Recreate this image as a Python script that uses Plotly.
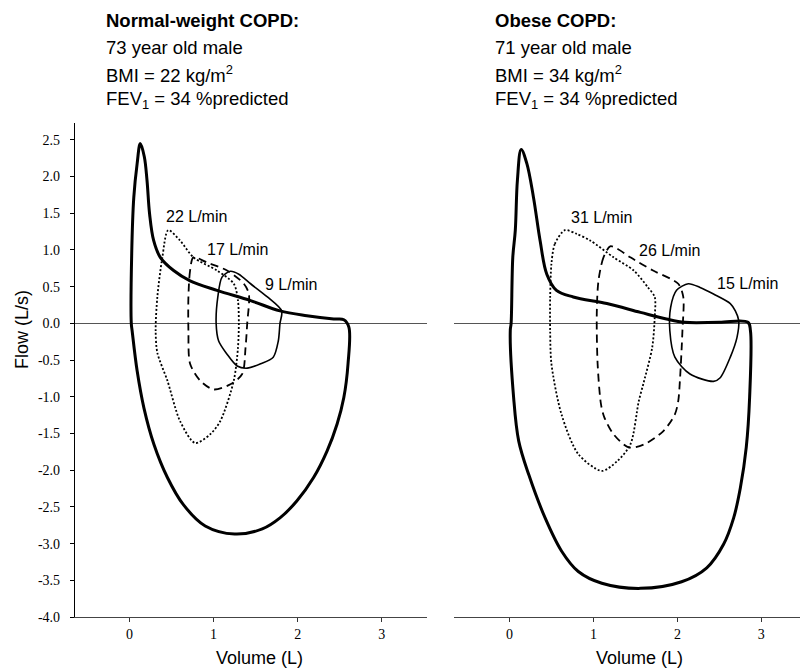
import plotly.graph_objects as go

# ---------------- data (Volume L, Flow L/s) ----------------
# Normal-weight COPD: maximal flow-volume loop
nw_max_v = [0.02, 0.025, 0.05, 0.09, 0.127, 0.175, 0.207, 0.238, 0.286, 0.365, 0.524, 0.72, 1.04, 1.44, 1.79, 2.11, 2.43, 2.55,
            2.61, 2.60, 2.55, 2.47, 2.35, 2.19, 1.99, 1.79, 1.58, 1.25, 0.90, 0.64, 0.45, 0.29, 0.17, 0.09, 0.03]
nw_max_f = [0.0, 0.95, 1.72, 2.18, 2.45, 2.27, 1.95, 1.49, 1.13, 0.90, 0.72, 0.58, 0.45, 0.31, 0.17, 0.105, 0.06, 0.05,
            -0.05, -0.55, -1.01, -1.37, -1.74, -2.10, -2.42, -2.65, -2.80, -2.87, -2.76, -2.47, -2.10, -1.65, -1.15, -0.65, -0.10]
# tidal loops, normal-weight
nw_22_v = [0.46, 0.39, 0.33, 0.31, 0.33, 0.45, 0.60, 0.78, 0.96, 1.08, 1.24, 1.29, 1.30, 1.29, 1.24, 1.04, 0.76, 0.60]
nw_22_f = [1.27, 0.90, 0.36, -0.10, -0.40, -0.78, -1.33, -1.63, -1.51, -1.33, -0.78, -0.33, 0.0, 0.31, 0.54, 0.72, 0.90, 1.13]
nw_17_v = [0.76, 0.72, 0.70, 0.70, 0.72, 0.84, 1.00, 1.20, 1.34, 1.38, 1.40, 1.42, 1.36, 1.16, 0.92]
nw_17_f = [0.90, 0.72, 0.36, -0.10, -0.55, -0.78, -0.90, -0.83, -0.69, -0.33, 0.0, 0.40, 0.54, 0.72, 0.83]
nw_9_v = [1.20, 1.10, 1.05, 1.03, 1.06, 1.16, 1.28, 1.40, 1.56, 1.71, 1.77, 1.79, 1.81, 1.64, 1.44, 1.30]
nw_9_f = [0.71, 0.63, 0.36, 0.0, -0.24, -0.42, -0.58, -0.61, -0.55, -0.46, -0.24, 0.0, 0.17, 0.36, 0.54, 0.67]

# Obese COPD: maximal flow-volume loop
ob_max_v = [0.02, 0.04, 0.07, 0.095, 0.14, 0.207, 0.286, 0.365, 0.445, 0.56, 0.76, 1.16, 1.56, 1.87, 2.09, 2.50, 2.84,
            2.87, 2.86, 2.82, 2.75, 2.67, 2.55, 2.35, 2.05, 1.56, 1.10, 0.82, 0.62, 0.425, 0.23, 0.11, 0.05, 0.01]
ob_max_f = [0.0, 0.90, 1.27, 1.95, 2.37, 2.18, 1.72, 1.13, 0.67, 0.45, 0.36, 0.27, 0.15, 0.06, 0.015, 0.015, 0.015,
            -0.10, -1.01, -1.69, -2.24, -2.65, -3.01, -3.33, -3.52, -3.61, -3.54, -3.38, -3.10, -2.65, -2.06, -1.60, -1.01, -0.10]
ob_31_v = [0.66, 0.54, 0.50, 0.485, 0.485, 0.50, 0.62, 0.82, 1.10, 1.28, 1.44, 1.54, 1.60, 1.70, 1.73, 1.73, 1.65, 1.48, 1.24, 0.96, 0.80]
ob_31_f = [1.27, 1.08, 0.81, 0.36, -0.10, -0.55, -1.24, -1.78, -2.01, -1.88, -1.65, -1.06, -0.80, -0.33, 0.08, 0.36, 0.49, 0.72, 0.90, 1.13, 1.22]
ob_26_v = [1.20, 1.12, 1.06, 1.04, 1.05, 1.09, 1.13, 1.24, 1.42, 1.60, 1.83, 1.97, 2.01, 2.03, 2.06, 2.07, 2.01, 1.71, 1.44, 1.28]
ob_26_f = [1.05, 0.90, 0.58, 0.13, -0.55, -1.10, -1.28, -1.51, -1.69, -1.65, -1.47, -1.24, -1.06, -0.78, -0.10, 0.36, 0.54, 0.72, 0.90, 1.02]
ob_15_v = [2.13, 1.99, 1.92, 1.91, 1.97, 2.15, 2.43, 2.51, 2.63, 2.71, 2.73, 2.69, 2.63, 2.43, 2.27]
ob_15_f = [0.54, 0.45, 0.22, -0.10, -0.46, -0.69, -0.79, -0.74, -0.46, -0.19, 0.04, 0.17, 0.27, 0.40, 0.49]

# labels
nw_labels = ["22 L/min", "17 L/min", "9 L/min"]
nw_label_v = [0.80, 1.29, 1.92]
nw_label_f = [1.45, 1.00, 0.53]
ob_labels = ["31 L/min", "26 L/min", "15 L/min"]
ob_label_v = [1.10, 1.91, 2.83]
ob_label_f = [1.44, 0.99, 0.54]

y_ticks = [-4.0, -3.5, -3.0, -2.5, -2.0, -1.5, -1.0, -0.5, 0.0, 0.5, 1.0, 1.5, 2.0, 2.5]
x_ticks = [0, 1, 2, 3]

nw_title = ["<b>Normal-weight COPD:</b>", "73 year old male", "BMI = 22 kg/m<sup>2</sup>", "FEV<sub>1</sub> = 34 %predicted"]
ob_title = ["<b>Obese COPD:</b>", "71 year old male", "BMI = 34 kg/m<sup>2</sup>", "FEV<sub>1</sub> = 34 %predicted"]


def closed(a):
    return list(a) + [a[0]]


fig = go.Figure()

def add_loop(v, f, xa, ya, width, dash, smooth=0.8):
    fig.add_trace(go.Scatter(x=closed(v), y=closed(f), mode="lines", xaxis=xa, yaxis=ya,
                             line=dict(color="black", width=width, dash=dash, shape="spline", smoothing=smooth),
                             showlegend=False, hoverinfo="skip"))

add_loop(nw_max_v, nw_max_f, "x", "y", 3, "solid", 1.0)
add_loop(nw_22_v, nw_22_f, "x", "y", 1.8, "2px,2px")
add_loop(nw_17_v, nw_17_f, "x", "y", 1.8, "8px,5px")
add_loop(nw_9_v, nw_9_f, "x", "y", 1.6, "solid")

add_loop(ob_max_v, ob_max_f, "x2", "y2", 3, "solid", 1.0)
add_loop(ob_31_v, ob_31_f, "x2", "y2", 1.8, "2px,2px")
add_loop(ob_26_v, ob_26_f, "x2", "y2", 1.8, "8px,5px")
add_loop(ob_15_v, ob_15_f, "x2", "y2", 1.6, "solid")

W, H = 802, 669
ML, MR, MT, MB = 75, 2, 123, 52
PW = W - ML - MR
PH = H - MT - MB

def px(xp):
    return (xp - ML) / PW

def py(yp):
    return (H - MB - yp) / PH

tick_font = dict(family="Liberation Serif, Times New Roman, serif", size=14, color="black")
sans = "Liberation Sans, Arial, sans-serif"

xcommon = dict(tickvals=x_ticks, ticktext=[str(t) for t in x_ticks], ticks="outside", ticklen=4,
               tickcolor="#333", showline=True, linecolor="#444", linewidth=1.2, showgrid=False,
               zeroline=False, tickfont=tick_font, ticklabelstandoff=0)

fig.update_layout(
    width=W, height=H, margin=dict(l=ML, r=MR, t=MT, b=MB),
    paper_bgcolor="white", plot_bgcolor="white",
    xaxis=dict(domain=[0, px(427)], range=[-0.65, 3.54], anchor="y", **xcommon),
    xaxis2=dict(domain=[px(454), 1.0], range=[-0.66, 3.46], anchor="y2", **xcommon),
    yaxis=dict(domain=[0, 1], range=[-4.0, 2.73], anchor="x", tickvals=y_ticks,
               ticktext=["%.1f" % t for t in y_ticks], ticks="outside", ticklen=4, tickcolor="black",
               showline=True, linecolor="black", linewidth=1.2, showgrid=False,
               zeroline=True, zerolinecolor="#555", zerolinewidth=1.2, tickfont=tick_font,
               ticklabelstandoff=7),
    yaxis2=dict(domain=[0, 1], range=[-4.0, 2.73], anchor="x2", showticklabels=False, ticks="",
                showline=False, showgrid=False, zeroline=True, zerolinecolor="#555", zerolinewidth=1.2),
)

ann = []
ys = [20, 47, 74, 100]
for i, t in enumerate(nw_title):
    ann.append(dict(text=t, xref="paper", yref="paper", x=px(104), y=py(ys[i]), xanchor="left", yanchor="middle",
                    showarrow=False, font=dict(family=sans, size=18.5, color="black")))
for i, t in enumerate(ob_title):
    ann.append(dict(text=t, xref="paper", yref="paper", x=px(493), y=py(ys[i]), xanchor="left", yanchor="middle",
                    showarrow=False, font=dict(family=sans, size=18.5, color="black")))
for t, v, f in zip(nw_labels, nw_label_v, nw_label_f):
    ann.append(dict(text=t, xref="x", yref="y", x=v, y=f, showarrow=False, xanchor="center", yanchor="middle",
                    font=dict(family=sans, size=16, color="black")))
for t, v, f in zip(ob_labels, ob_label_v, ob_label_f):
    ann.append(dict(text=t, xref="x2", yref="y2", x=v, y=f, showarrow=False, xanchor="center", yanchor="middle",
                    font=dict(family=sans, size=16, color="black")))
ann.append(dict(text="Flow (L/s)", xref="paper", yref="paper", x=px(22), y=py(330), textangle=-90,
                xanchor="center", yanchor="middle",
                showarrow=False, font=dict(family=sans, size=18, color="black")))
ann.append(dict(text="Volume (L)", xref="x", yref="paper", x=1.55, y=py(658), showarrow=False,
                xanchor="center", yanchor="middle",
                font=dict(family=sans, size=18, color="black")))
ann.append(dict(text="Volume (L)", xref="x2", yref="paper", x=1.55, y=py(658), showarrow=False,
                xanchor="center", yanchor="middle",
                font=dict(family=sans, size=18, color="black")))
fig.update_layout(annotations=ann)

fig.write_html("out.html")
